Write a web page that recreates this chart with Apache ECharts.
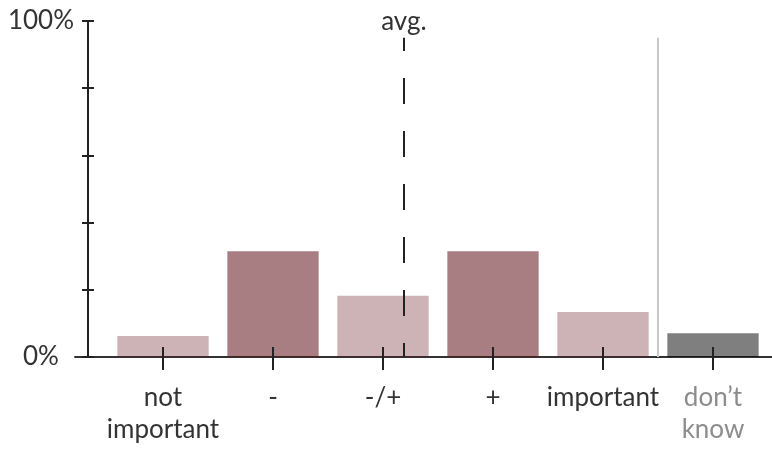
<!DOCTYPE html>
<html>
<head>
<meta charset="utf-8">
<script src="https://cdn.jsdelivr.net/npm/echarts@6/dist/echarts.min.js"></script>
<style>html,body{margin:0;padding:0;background:#fff}#c{width:772px;height:449px}</style>
</head>
<body>
<div id="c"></div>
<script>
const categories = ['not\nimportant', '-', '-/+', '+', 'important', 'don’t\nknow'];
const shares = [6.25, 31.5, 18.2, 31.5, 13.4, 7.1];
const avgRating = 3.19;          // on the 1..5 rating scale
const separatorAfter = 4;        // separator between 'important' and 'don't know'
const yTicks = [0, 20, 40, 60, 80, 100];

const barColors = ['rgba(99,20,28,0.32)', 'rgba(99,20,28,0.55)', 'rgba(99,20,28,0.32)',
                   'rgba(99,20,28,0.55)', 'rgba(99,20,28,0.32)', 'rgba(0,0,0,0.5)'];
const labelColors = ['#333333', '#333333', '#333333', '#333333', '#333333', '#8c8c8c'];
const FONT = 'Lato';
const FW = 'normal';
const FS = 26;

const chart = echarts.init(document.getElementById('c'), null, {renderer: 'canvas'});
const dark = '#222222';

chart.setOption({
  animation: false,
  backgroundColor: '#ffffff',
  grid: [
    {left: 108, right: 4, top: 21, bottom: 92, containLabel: false},
    {left: 75, right: 0, top: 21, bottom: 92, containLabel: false}
  ],
  xAxis: [
    {
      type: 'category', gridIndex: 0, data: categories, position: 'bottom', z: 5,
      axisLine: {show: false, onZero: false},
      axisTick: {show: true, inside: true, length: 10, alignWithLabel: true, lineStyle: {color: dark, width: 2}},
      axisLabel: {
        show: true, interval: 0, margin: 25, fontFamily: FONT, fontWeight: FW, fontSize: FS, lineHeight: 32,
        color: (v, i) => labelColors[i]
      },
      splitLine: {show: false}
    },
    {
      type: 'category', gridIndex: 0, data: categories, position: 'bottom', z: 5,
      axisLine: {show: false, onZero: false},
      axisTick: {show: true, inside: false, length: 13, alignWithLabel: true, lineStyle: {color: dark, width: 2}},
      axisLabel: {show: false},
      splitLine: {show: false}
    },
    {
      type: 'value', gridIndex: 1, min: 0, max: 1, position: 'bottom', z: 0,
      axisLine: {show: true, onZero: false, lineStyle: {color: '#333333', width: 2}},
      axisTick: {show: false}, axisLabel: {show: false}, splitLine: {show: false}
    },
    {
      type: 'value', gridIndex: 0, min: -0.5, max: categories.length - 0.5, show: false,
      axisLine: {onZero: false}
    }
  ],
  yAxis: [
    {
      type: 'value', gridIndex: 0, min: 0, max: 100, interval: 20, offset: 20, position: 'left',
      axisLine: {show: true, onZero: false, lineStyle: {color: dark, width: 2}},
      axisTick: {show: true, inside: false, length: 6, lineStyle: {color: dark, width: 2}},
      axisLabel: {
        show: true, margin: 47, align: 'center', fontFamily: FONT, fontWeight: FW, fontSize: FS, color: '#333333',
        formatter: v => (v === yTicks[0] || v === yTicks[yTicks.length - 1]) ? v + '%' : ''
      },
      splitLine: {show: false}
    },
    {
      type: 'value', gridIndex: 0, min: 0, max: 100, interval: 20, offset: 20, position: 'left',
      axisLine: {show: false, onZero: false},
      axisTick: {show: true, inside: true, length: 6, lineStyle: {color: dark, width: 2}},
      axisLabel: {show: false}, splitLine: {show: false}
    },
    {type: 'value', gridIndex: 1, min: 0, max: 100, show: false, axisLine: {onZero: false}}
  ],
  series: [
    {
      type: 'line', xAxisIndex: 3, yAxisIndex: 0, data: [], z: 1, silent: true,
      markLine: {
        silent: true, symbol: 'none', animation: false,
        data: [
          [
            {coord: [avgRating - 1, 0], lineStyle: {color: dark, width: 2, type: [26, 27], dashOffset: 12},
             label: {show: true, position: 'end', formatter: 'avg.', fontFamily: FONT, fontWeight: FW, fontSize: FS, color: '#333333', distance: 3}},
            {coord: [avgRating - 1, 95]}
          ],
          [
            {coord: [separatorAfter + 0.5, 0], lineStyle: {color: '#c8c8c8', width: 2, type: 'solid'},
             label: {show: false}},
            {coord: [separatorAfter + 0.5, 95]}
          ]
        ]
      }
    },
    {
      type: 'bar', xAxisIndex: 0, yAxisIndex: 0, z: 2, barCategoryGap: '17%',
      data: shares.map((v, i) => ({value: v, itemStyle: {color: barColors[i]}}))
    }
  ]
});
</script>
</body>
</html>
